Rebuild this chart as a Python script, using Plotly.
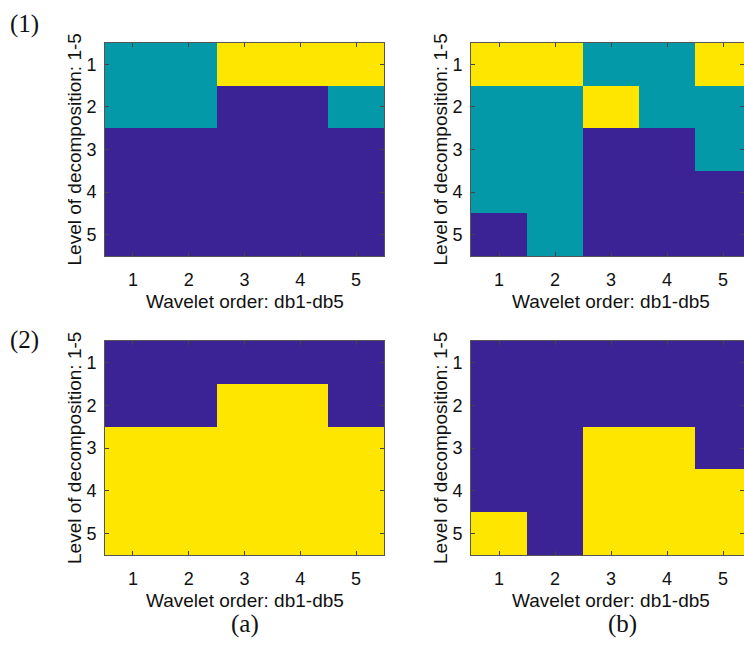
import plotly.graph_objects as go

# Wavelet order (columns) and decomposition level (rows)
orders = [1, 2, 3, 4, 5]
levels = [1, 2, 3, 4, 5]

# Row 1: three-class maps (0 = low, 1 = mid, 2 = high)
map_1a = [
    [1, 1, 2, 2, 2],
    [1, 1, 0, 0, 1],
    [0, 0, 0, 0, 0],
    [0, 0, 0, 0, 0],
    [0, 0, 0, 0, 0],
]
map_1b = [
    [2, 2, 1, 1, 2],
    [1, 1, 2, 1, 1],
    [1, 1, 0, 0, 1],
    [1, 1, 0, 0, 0],
    [0, 1, 0, 0, 0],
]
# Row 2: binary maps
map_2a = [
    [0, 0, 0, 0, 0],
    [0, 0, 1, 1, 0],
    [1, 1, 1, 1, 1],
    [1, 1, 1, 1, 1],
    [1, 1, 1, 1, 1],
]
map_2b = [
    [0, 0, 0, 0, 0],
    [0, 0, 0, 0, 0],
    [0, 0, 1, 1, 0],
    [0, 0, 1, 1, 1],
    [1, 0, 1, 1, 1],
]

x_title = "Wavelet order: db1-db5"
y_title = "Level of decomposition: 1-5"
row_labels = ["(1)", "(2)"]
col_labels = ["(a)", "(b)"]

PURPLE = "#3B2396"
TEAL = "#0399A8"
YELLOW = "#FEE600"
scale3 = [[0, PURPLE], [0.5, TEAL], [1, YELLOW]]
scale2 = [[0, PURPLE], [1, YELLOW]]

W, H = 744, 651


def px_x(v):
    return v / W


def px_y(v):
    return 1 - v / H


# panel pixel boxes: (left, right, top, bottom)
col_px = [(105, 384), (471, 744)]
row_px = [(43, 256), (341, 555)]
xranges = [[0.5, 5.5], [0.5, 5.375]]

panels = [
    (0, 0, map_1a, scale3, 2),
    (0, 1, map_1b, scale3, 2),
    (1, 0, map_2a, scale2, 1),
    (1, 1, map_2b, scale2, 1),
]

fig = go.Figure()
layout = {}
annotations = []
tick_font = dict(family="Liberation Sans, Arial", size=18, color="#111")
title_font = dict(family="Liberation Sans, Arial", size=19, color="#111")

for i, (r, c, z, cs, zmax) in enumerate(panels):
    n = "" if i == 0 else str(i + 1)
    fig.add_trace(go.Heatmap(
        x=orders, y=levels, z=z, colorscale=cs, zmin=0, zmax=zmax,
        showscale=False, xaxis="x" + n, yaxis="y" + n,
        xgap=0, ygap=0,
    ))
    l, rt = col_px[c]
    t, b = row_px[r]
    common = dict(
        showline=True, linecolor="#555", linewidth=1, mirror="ticks",
        ticks="inside", ticklen=4, tickcolor="#444", tickwidth=1,
        showgrid=False, zeroline=False, tickfont=tick_font,
        tickmode="array", fixedrange=True,
    )
    layout["xaxis" + n] = dict(
        domain=[px_x(l), px_x(rt)], anchor="y" + n, range=xranges[c],
        tickvals=orders, ticktext=[str(o) for o in orders],
        ticklabelstandoff=7, **common,
    )
    layout["yaxis" + n] = dict(
        domain=[px_y(b), px_y(t)], anchor="x" + n, range=[5.5, 0.5],
        tickvals=levels, ticktext=[str(v) for v in levels],
        ticklabelstandoff=4, **common,
    )
    # axis titles
    cx = l + 139.5
    annotations.append(dict(
        text=x_title, x=px_x(cx), y=px_y(b + 45), xref="paper", yref="paper",
        showarrow=False, font=title_font, xanchor="center", yanchor="middle",
    ))
    annotations.append(dict(
        text=y_title, x=px_x(l - 31), y=px_y((t + b) / 2), xref="paper",
        yref="paper", showarrow=False, font=title_font, textangle=-90,
        xanchor="center", yanchor="middle",
    ))

serif = dict(family="Liberation Serif, Times New Roman", size=25, color="#111")
for lab, ypx in zip(row_labels, [24, 340]):
    annotations.append(dict(
        text=lab, x=px_x(24), y=px_y(ypx), xref="paper", yref="paper",
        showarrow=False, font=serif, xanchor="center", yanchor="middle",
    ))
for lab, xpx in zip(col_labels, [245, 622]):
    annotations.append(dict(
        text=lab, x=px_x(xpx), y=px_y(624), xref="paper", yref="paper",
        showarrow=False, font=serif, xanchor="center", yanchor="middle",
    ))

fig.update_layout(
    width=W, height=H, margin=dict(l=0, r=0, t=0, b=0),
    paper_bgcolor="white", plot_bgcolor="white",
    annotations=annotations, showlegend=False, **layout,
)

fig.write_html("out.html", config={"displayModeBar": False})
